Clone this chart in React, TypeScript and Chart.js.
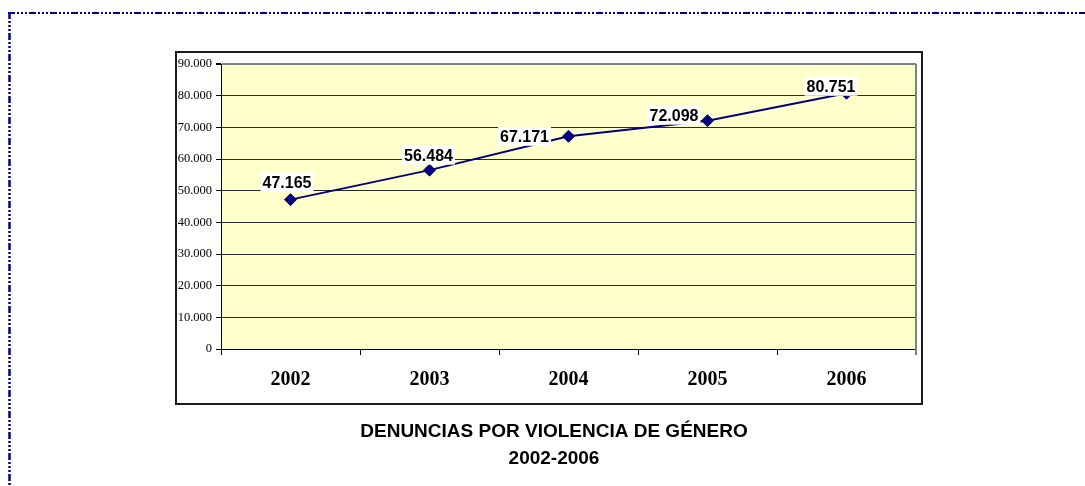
import React, { useEffect, useRef } from 'react';
import { Chart, registerables } from 'chart.js';

Chart.register(...registerables);

const years = ['2002', '2003', '2004', '2005', '2006'];
const complaints = [47165, 56484, 67171, 72098, 80751];
const yMin = 0;
const yMax = 90000;
const yStep = 10000;
const titleLines = ['DENUNCIAS POR VIOLENCIA DE GÉNERO', '2002-2006'];

const fmt = (n: number) =>
  n === 0 ? '0' : String(Math.round(n)).replace(/\B(?=(\d{3})+(?!\d))/g, '.');

const SANS = '"Liberation Sans", Arial, sans-serif';
const SERIF = '"Liberation Serif", "Times New Roman", serif';

const decorPlugin = {
  id: 'decor',
  beforeDraw(chart: any) {
    const { ctx, chartArea: a, width, height } = chart;
    ctx.save();
    ctx.fillStyle = '#ffffff';
    ctx.fillRect(0, 0, width, height);
    // dashed page frame
    ctx.strokeStyle = '#000080';
    ctx.lineWidth = 2;
    ctx.setLineDash([7, 2, 2, 2, 2, 2, 2, 2]);
    ctx.beginPath();
    ctx.moveTo(8, 13);
    ctx.lineTo(width, 13);
    ctx.stroke();
    ctx.lineWidth = 2.5;
    ctx.beginPath();
    ctx.moveTo(9.5, 12);
    ctx.lineTo(9.5, height);
    ctx.stroke();
    ctx.setLineDash([]);
    // outer chart box
    ctx.strokeStyle = '#1a1a1a';
    ctx.lineWidth = 2;
    ctx.strokeRect(a.left - 45, a.top - 12, a.right - a.left + 51, a.bottom - a.top + 67);
    // plot background
    ctx.fillStyle = '#FFFFCC';
    ctx.fillRect(a.left, a.top, a.right - a.left, a.bottom - a.top);
    ctx.restore();
  },
  afterDatasetsDraw(chart: any, _args: any, opts: any) {
    const { ctx, chartArea: a } = chart;
    ctx.save();
    // right plot border (grey)
    ctx.strokeStyle = '#808080';
    ctx.lineWidth = 2;
    ctx.beginPath();
    ctx.moveTo(a.right, a.top);
    ctx.lineTo(a.right, a.bottom + 6);
    ctx.stroke();
    // data labels
    const meta = chart.getDatasetMeta(0);
    const offsets = opts.offsets || [];
    ctx.font = `bold 16px ${SANS}`;
    ctx.textAlign = 'center';
    ctx.textBaseline = 'middle';
    meta.data.forEach((pt: any, i: number) => {
      const [dx, dy] = offsets[i] || [0, -16];
      const x = pt.x + dx;
      const y = pt.y + dy;
      const txt = fmt(complaints[i]);
      const w = ctx.measureText(txt).width + 4;
      ctx.fillStyle = '#ffffff';
      ctx.fillRect(x - w / 2, y - 9.5, w, 19);
      ctx.fillStyle = '#000000';
      ctx.fillText(txt, x, y + 1);
    });
    ctx.restore();
  },
  afterDraw(chart: any) {
    const { ctx, chartArea: a } = chart;
    ctx.save();
    ctx.fillStyle = '#000000';
    ctx.font = `bold 19px ${SANS}`;
    ctx.textAlign = 'center';
    ctx.textBaseline = 'middle';
    const cx = a.left - 45 + (a.right - a.left + 51) / 2 + 5;
    titleLines.forEach((line, i) => {
      ctx.fillText(line, cx, a.bottom + 83 + i * 27);
    });
    ctx.restore();
  },
};

export default function App() {
  const ref = useRef<HTMLCanvasElement | null>(null);

  useEffect(() => {
    if (!ref.current) return;
    const chart = new Chart(ref.current, {
      type: 'line',
      data: {
        labels: years,
        datasets: [
          {
            label: 'Denuncias',
            data: complaints,
            borderColor: '#000080',
            backgroundColor: '#000080',
            borderWidth: 2,
            pointStyle: 'rectRot',
            pointRadius: 6,
            pointBackgroundColor: '#000080',
            pointBorderColor: '#000080',
            pointBorderWidth: 1,
            tension: 0,
          },
        ],
      },
      options: {
        responsive: false,
        animation: false,
        events: [],
        layout: { padding: { left: 171, right: 169, top: 64, bottom: 87 } },
        plugins: {
          legend: { display: false },
          title: { display: false },
          tooltip: { enabled: false },
          decor: {
            offsets: [
              [-3.5, -17.5],
              [-1, -15],
              [-44, 0],
              [-33.5, -5.5],
              [-15.5, -7],
            ],
          },
        } as any,
        scales: {
          x: {
            type: 'category',
            offset: true,
            afterFit: (s: any) => {
              s.height = 50;
            },
            border: { color: '#000000', width: 1 },
            grid: {
              offset: true,
              drawOnChartArea: false,
              tickLength: 6,
              color: '#000000',
            },
            ticks: {
              padding: 13,
              color: '#000000',
              font: { family: SERIF, size: 20, weight: 'bold' },
            },
          },
          y: {
            min: yMin,
            max: yMax,
            afterFit: (s: any) => {
              s.width = 50;
            },
            border: { color: '#000000', width: 1 },
            grid: {
              color: (c: any) => (c.tick && c.tick.value === yMax ? '#808080' : '#2b2b2b'),
              lineWidth: (c: any) => (c.tick && c.tick.value === yMax ? 2 : 1),
              tickLength: 5,
              tickColor: '#000000',
            },
            ticks: {
              stepSize: yStep,
              padding: 4,
              color: '#000000',
              font: { family: SERIF, size: 12.5 },
              callback: (v: any) => fmt(Number(v)),
            },
          },
        },
      },
      plugins: [decorPlugin],
    });
    return () => chart.destroy();
  }, []);

  return (
    <div style={{ position: 'absolute', left: 0, top: 0, width: 1085, height: 486 }}>
      <canvas ref={ref} width={1085} height={486} style={{ display: 'block' }} />
    </div>
  );
}
